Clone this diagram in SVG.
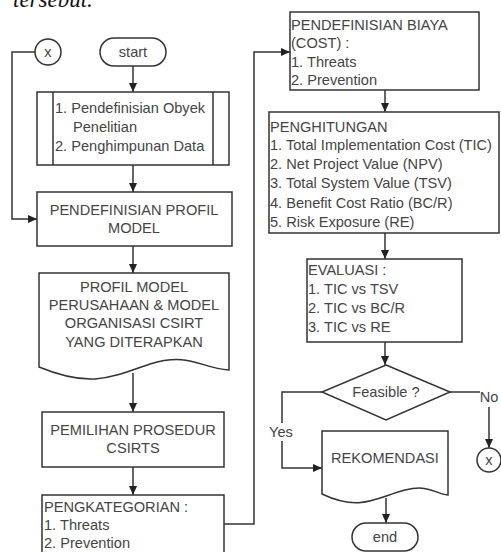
<svg xmlns="http://www.w3.org/2000/svg" width="501" height="552" viewBox="0 0 501 552">
<style>
.s{fill:#fff;stroke:#333;stroke-width:1.5}
.t{font-family:"Liberation Sans",Arial,sans-serif;font-size:14.6px;fill:#444}
.c{text-anchor:middle}
.l{fill:none;stroke:#333;stroke-width:1.5}
</style>
<defs>
<marker id="a" markerWidth="10" markerHeight="10" refX="9" refY="5" orient="auto" markerUnits="userSpaceOnUse">
<path d="M0,1 L9,5 L0,9 Z" fill="#222"/>
</marker>
</defs>
<rect width="501" height="552" fill="#fff"/>
<text x="13" y="7" style="font-family:'Liberation Serif',serif;font-style:italic;font-size:23px;fill:#111">tersebut.</text>
<g id="connectors">
<path class="l" d="M133,66 V92" marker-end="url(#a)"/>
<path class="l" d="M133,165 V192" marker-end="url(#a)"/>
<path class="l" d="M35,52 H12 V219 H37" marker-end="url(#a)"/>
<path class="l" d="M133,246 V273" marker-end="url(#a)"/>
<path class="l" d="M133,373 V412" marker-end="url(#a)"/>
<path class="l" d="M133,467 V495" marker-end="url(#a)"/>
<path class="l" d="M224,524 H254 V52 H290" marker-end="url(#a)"/>
<path class="l" d="M385,90 V112" marker-end="url(#a)"/>
<path class="l" d="M385,233 V259" marker-end="url(#a)"/>
<path class="l" d="M385,342 V365" marker-end="url(#a)"/>
<path class="l" d="M322,392 H282 V468 H322" marker-end="url(#a)"/>
<path class="l" d="M450,392 H480"/>
<path class="l" d="M489,407 V448" marker-end="url(#a)"/>
<path class="l" d="M386,498 V523" marker-end="url(#a)"/>
<rect x="266" y="423" width="31" height="18" fill="#fff"/>
<text class="t c" x="281" y="437">Yes</text>
<text class="t c" x="489" y="402">No</text>
</g>
<g id="connector-x-left"><circle class="s" cx="48" cy="52" r="13"/><text class="t c" x="48" y="57">x</text></g>
<g id="start"><rect class="s" x="100" y="38" width="66" height="28" rx="14"/><text class="t c" x="133" y="57">start</text></g>
<g id="proses1">
<rect class="s" x="37" y="92" width="192" height="73"/>
<path class="l" d="M53,92 V165 M213,92 V165"/>
<text class="t" x="55" y="113">1. Pendefinisian Obyek</text>
<text class="t" x="73" y="132">Penelitian</text>
<text class="t" x="55" y="151">2. Penghimpunan Data</text>
</g>
<g id="profil">
<rect class="s" x="37" y="192" width="195" height="54"/>
<text class="t c" x="134" y="215">PENDEFINISIAN PROFIL</text>
<text class="t c" x="134" y="233">MODEL</text>
</g>
<g id="dokumen-profil">
<path class="s" d="M39,273 H229 V370 C200,368 190,352 150,364 C110,378 90,388 39,367 Z"/>
<text class="t c" x="134" y="292">PROFIL MODEL</text>
<text class="t c" x="134" y="310">PERUSAHAAN &amp; MODEL</text>
<text class="t c" x="134" y="328">ORGANISASI CSIRT</text>
<text class="t c" x="134" y="347">YANG DITERAPKAN</text>
</g>
<g id="pemilihan">
<rect class="s" x="42" y="412" width="182" height="55"/>
<text class="t c" x="133" y="435">PEMILIHAN PROSEDUR</text>
<text class="t c" x="133" y="453">CSIRTS</text>
</g>
<g id="pengkategorian">
<rect class="s" x="42" y="495" width="182" height="70"/>
<text class="t" x="44" y="512">PENGKATEGORIAN :</text>
<text class="t" x="44" y="530">1. Threats</text>
<text class="t" x="44" y="548">2. Prevention</text>
</g>
<g id="biaya">
<rect class="s" x="290" y="12" width="189" height="78"/>
<text class="t" x="291" y="30">PENDEFINISIAN BIAYA</text>
<text class="t" x="291" y="48">(COST) :</text>
<text class="t" x="291" y="67">1. Threats</text>
<text class="t" x="291" y="85">2. Prevention</text>
</g>
<g id="penghitungan">
<rect class="s" x="269" y="112" width="230" height="121"/>
<text class="t" x="270" y="132">PENGHITUNGAN</text>
<text class="t" x="270" y="150">1. Total Implementation Cost (TIC)</text>
<text class="t" x="270" y="169">2. Net Project Value (NPV)</text>
<text class="t" x="270" y="188">3. Total System Value (TSV)</text>
<text class="t" x="270" y="208">4. Benefit Cost Ratio (BC/R)</text>
<text class="t" x="270" y="227">5. Risk Exposure (RE)</text>
</g>
<g id="evaluasi">
<rect class="s" x="307" y="259" width="155" height="83"/>
<text class="t" x="308" y="275">EVALUASI :</text>
<text class="t" x="308" y="294">1. TIC vs TSV</text>
<text class="t" x="308" y="313">2. TIC vs BC/R</text>
<text class="t" x="308" y="332">3. TIC vs RE</text>
</g>
<g id="feasible">
<path class="s" d="M386,365 L450,392 L386,420 L322,392 Z"/>
<text class="t c" x="386" y="397">Feasible ?</text>
</g>
<g id="rekomendasi">
<path class="s" d="M322,431 H448 V495 C435,494 430,484 405,490 C375,498 360,512 322,494 Z"/>
<text class="t c" x="385" y="463">REKOMENDASI</text>
</g>
<g id="end"><rect class="s" x="352" y="523" width="66" height="28" rx="14"/><text class="t c" x="385" y="542">end</text></g>
<g id="connector-x-right"><circle class="s" cx="489" cy="460" r="12"/><text class="t c" x="489" y="465">x</text></g>
</svg>
